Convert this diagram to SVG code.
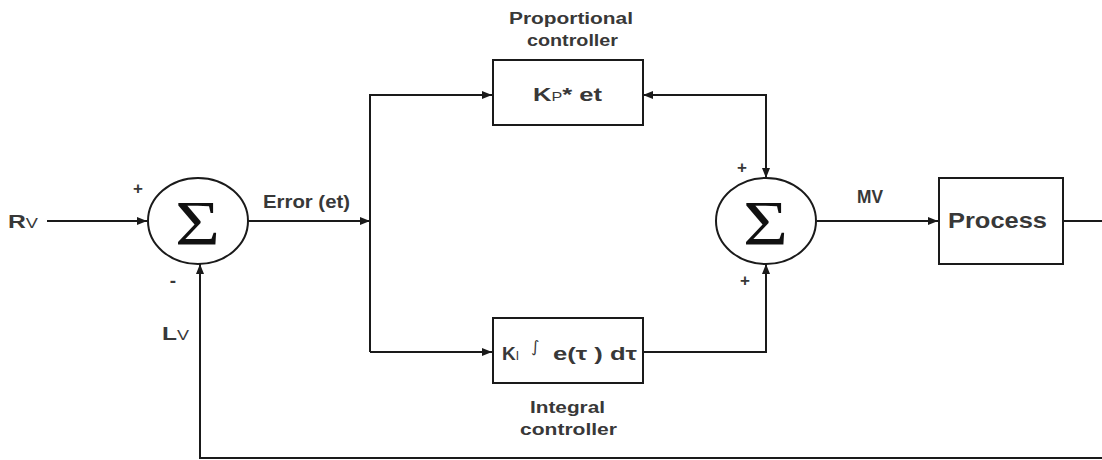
<svg xmlns="http://www.w3.org/2000/svg" width="1102" height="460" viewBox="0 0 1102 460">
<style>
.ln{stroke:#1a1a1a;stroke-width:2;fill:none}
.box{stroke:#1a1a1a;stroke-width:2;fill:#fff}
.t{font-family:"Liberation Sans",Arial,sans-serif;font-weight:bold;fill:#383838}
.sig{font-family:"Liberation Serif","Times New Roman",serif;font-size:64px;fill:#111}
</style>
<defs>
<marker id="ah" viewBox="0 0 10 10" refX="10" refY="5" markerWidth="10" markerHeight="10" markerUnits="userSpaceOnUse" orient="auto-start-reverse">
<path d="M0,1 L10,5 L0,9 Z" fill="#1a1a1a"/>
</marker>
</defs>
<rect width="1102" height="460" fill="#fff"/>
<g id="connectors">
<line class="ln" x1="47" y1="221" x2="147" y2="221" marker-end="url(#ah)"/>
<line class="ln" x1="248" y1="221" x2="370" y2="221" marker-end="url(#ah)"/>
<line class="ln" x1="370" y1="94" x2="370" y2="352"/>
<line class="ln" x1="370" y1="95" x2="492" y2="95" marker-end="url(#ah)"/>
<line class="ln" x1="370" y1="352" x2="492" y2="352" marker-end="url(#ah)"/>
<polyline class="ln" points="643,95 766,95 766,178" marker-start="url(#ah)" marker-end="url(#ah)"/>
<polyline class="ln" points="643,352 766,352 766,264" marker-end="url(#ah)"/>
<line class="ln" x1="817" y1="221" x2="938" y2="221" marker-end="url(#ah)"/>
<line class="ln" x1="1063" y1="221" x2="1104" y2="221"/>
<polyline class="ln" points="1104,458 200,458 200,264" marker-end="url(#ah)"/>
</g>
<g id="sum1">
<ellipse class="box" cx="198" cy="221" rx="50" ry="43"/>
<text class="sig" x="175" y="245" textLength="45" lengthAdjust="spacingAndGlyphs">Σ</text>
<text class="t" x="138" y="194" font-size="17" text-anchor="middle">+</text>
<text class="t" x="173" y="287" font-size="19" text-anchor="middle">-</text>
</g>
<g id="rv"><text class="t" x="8" y="228" font-size="19" textLength="30" lengthAdjust="spacingAndGlyphs">R<tspan font-size="14" font-weight="normal">V</tspan></text></g>
<g id="lv"><text class="t" x="162" y="340" font-size="19" textLength="27" lengthAdjust="spacingAndGlyphs">L<tspan font-size="14" font-weight="normal">V</tspan></text></g>
<g id="error"><text class="t" x="263" y="208" font-size="18" textLength="87" lengthAdjust="spacingAndGlyphs">Error (et)</text></g>
<g id="kp">
<rect class="box" x="493" y="60" width="150" height="65"/>
<text class="t" x="533" y="101" font-size="19" textLength="69" lengthAdjust="spacingAndGlyphs">K<tspan font-size="12" font-weight="normal">P</tspan>* et</text>
<text class="t" x="509" y="24" font-size="16" textLength="124" lengthAdjust="spacingAndGlyphs">Proportional</text>
<text class="t" x="527" y="46" font-size="16" textLength="91" lengthAdjust="spacingAndGlyphs">controller</text>
</g>
<g id="ki">
<rect class="box" x="493" y="318" width="150" height="65"/>
<text class="t" x="502" y="360" font-size="19">K<tspan font-size="12" font-weight="normal">I</tspan></text>
<text x="531" y="352" font-family="'DejaVu Sans',sans-serif" font-size="16" fill="#383838">∫</text>
<text class="t" x="553" y="360" font-size="19" textLength="84" lengthAdjust="spacingAndGlyphs">e(τ ) dτ</text>
<text class="t" x="530" y="413" font-size="16" textLength="75" lengthAdjust="spacingAndGlyphs">Integral</text>
<text class="t" x="520" y="435" font-size="16" textLength="97" lengthAdjust="spacingAndGlyphs">controller</text>
</g>
<g id="sum2">
<ellipse class="box" cx="766" cy="221" rx="50" ry="43"/>
<text class="sig" x="743" y="245" textLength="45" lengthAdjust="spacingAndGlyphs">Σ</text>
<text class="t" x="742" y="173" font-size="17" text-anchor="middle">+</text>
<text class="t" x="745" y="286" font-size="17" text-anchor="middle">+</text>
</g>
<g id="mv"><text class="t" x="857" y="203" font-size="18" textLength="26" lengthAdjust="spacingAndGlyphs">MV</text></g>
<g id="process">
<rect class="box" x="939" y="178" width="124" height="86"/>
<text class="t" x="948" y="228" font-size="22" textLength="99" lengthAdjust="spacingAndGlyphs">Process</text>
</g>
</svg>
